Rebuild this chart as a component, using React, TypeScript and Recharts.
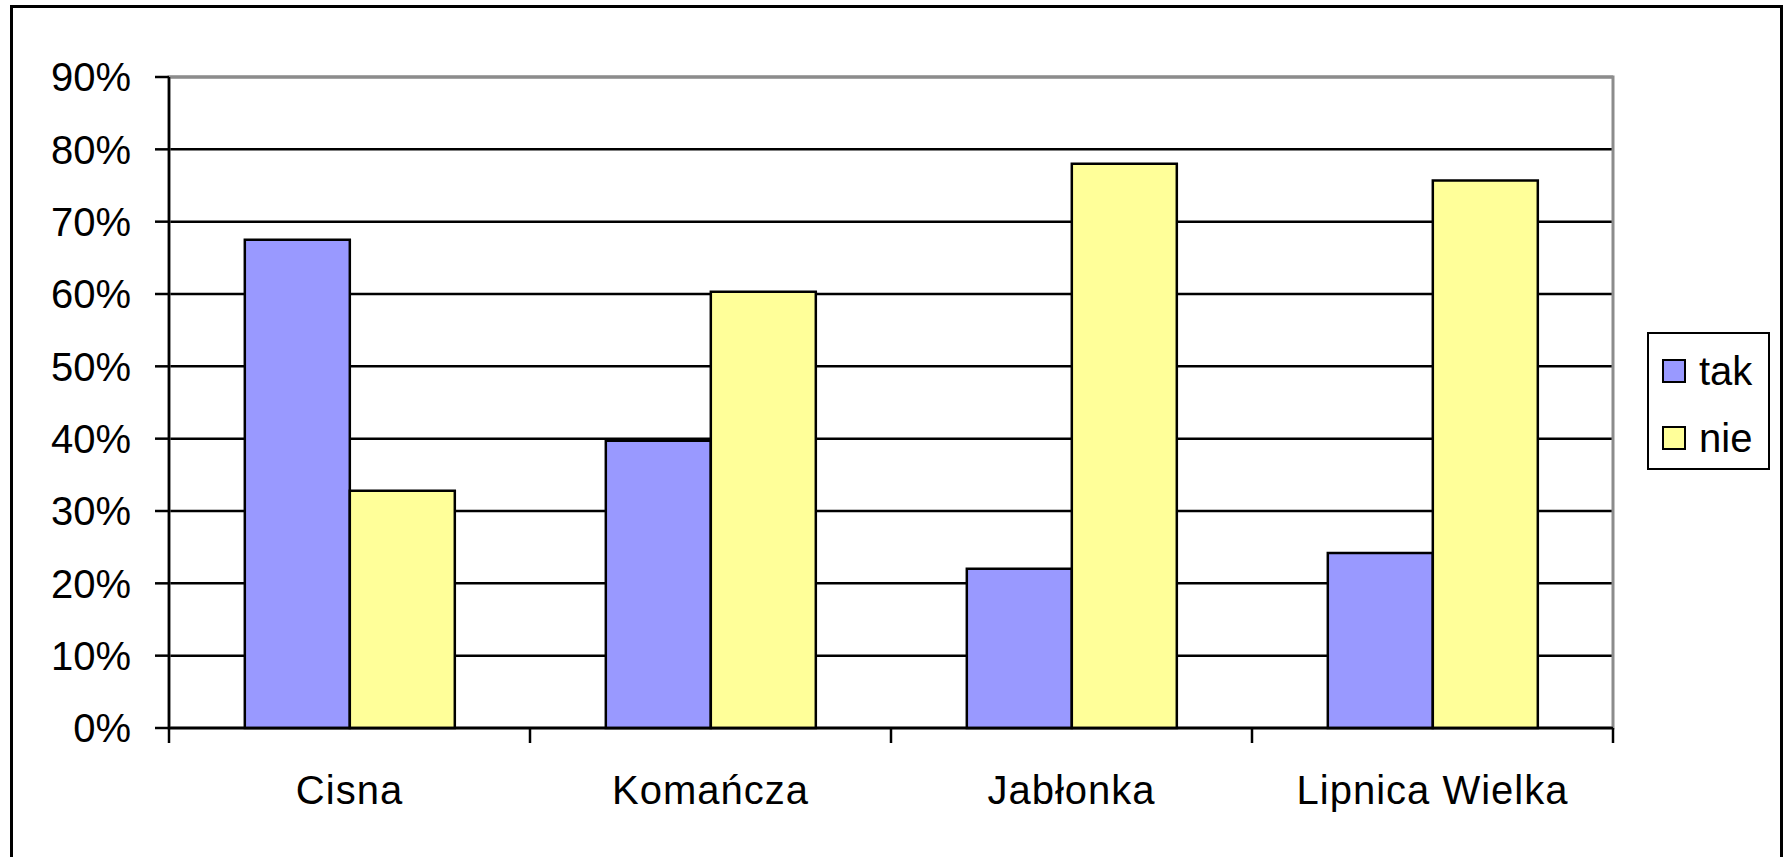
import React from 'react';
import { BarChart, Bar, XAxis, YAxis, CartesianGrid, Legend, ReferenceArea } from 'recharts';

const categories = ['Cisna', 'Komańcza', 'Jabłonka', 'Lipnica Wielka'];
const seriesNames = ['tak', 'nie'];
const takValues = [67.5, 39.7, 22.0, 24.2];
const nieValues = [32.8, 60.3, 78.0, 75.7];
const yTicks = [0, 10, 20, 30, 40, 50, 60, 70, 80, 90];

const data = categories.map((c, i) => ({ name: c, tak: takValues[i], nie: nieValues[i] }));

const FONT = '"Liberation Sans", Arial, sans-serif';
const X_TICK_MARGIN = 48;

const XTick = (props: any) => {
  const { x, y, payload, index, visibleTicksCount } = props;
  const off = typeof payload?.offset === 'number' ? payload.offset : 0;
  const axisY = y - X_TICK_MARGIN;
  return (
    <g>
      <line x1={x - off} x2={x - off} y1={axisY} y2={axisY + 15} stroke="#000" strokeWidth={2.5} />
      {index === visibleTicksCount - 1 && (
        <line x1={x + off} x2={x + off} y1={axisY} y2={axisY + 15} stroke="#000" strokeWidth={2.5} />
      )}
      <text
        x={x}
        y={y}
        dy="0.71em"
        textAnchor="middle"
        fill="#000"
        fontSize={40}
        fontFamily={FONT}
        letterSpacing={1}
      >
        {payload.value}
      </text>
    </g>
  );
};

const LegendContent = (props: any) => {
  const items = [...(props.payload || [])].sort(
    (a: any, b: any) => seriesNames.indexOf(a.value) - seriesNames.indexOf(b.value)
  );
  return (
    <div
      style={{
        border: '2.5px solid #000',
        background: '#fff',
        width: 123,
        height: 138,
        boxSizing: 'border-box',
        paddingTop: 3,
        fontFamily: FONT,
      }}
    >
      {items.map((it: any) => (
        <div key={it.value} style={{ display: 'flex', alignItems: 'center', height: 67, paddingLeft: 13 }}>
          <div
            style={{
              width: 24,
              height: 24,
              boxSizing: 'border-box',
              border: '2.5px solid #000',
              background: it.color,
            }}
          />
          <span style={{ fontSize: 40, color: '#000', marginLeft: 13, lineHeight: '40px' }}>{it.value}</span>
        </div>
      ))}
    </div>
  );
};

export default function App() {
  return (
    <div style={{ position: 'fixed', left: 0, top: 0, width: 1789, height: 857, overflow: 'hidden', background: '#fff' }}>
      <div
        style={{
          position: 'absolute',
          left: 10,
          top: 5,
          width: 1773,
          height: 900,
          border: '3px solid #000',
          boxSizing: 'border-box',
        }}
      />
      <div style={{ position: 'absolute', left: 0, top: 0 }}>
        <BarChart
          width={1789}
          height={857}
          data={data}
          margin={{ top: 77, right: 176, bottom: 29, left: 0 }}
          barCategoryGap="21%"
          barGap={0}
        >
          <CartesianGrid vertical={false} stroke="#000" strokeWidth={2.5} />
          <ReferenceArea y1={0} y2={90} fill="none" fillOpacity={0} stroke="#8c8c8c" strokeWidth={3} ifOverflow="visible" />
          <XAxis
            dataKey="name"
            height={100}
            tickSize={0}
            tickMargin={X_TICK_MARGIN}
            tickLine={false}
            axisLine={{ stroke: '#000', strokeWidth: 2.5 }}
            tick={<XTick />}
            interval={0}
          />
          <YAxis
            width={169}
            domain={[0, 90]}
            ticks={yTicks}
            interval={0}
            tickFormatter={(v: number) => `${v}%`}
            tickSize={14}
            tickMargin={24}
            tickLine={{ stroke: '#000', strokeWidth: 2.5 }}
            axisLine={{ stroke: '#000', strokeWidth: 2.5 }}
            tick={{ fill: '#000', fontSize: 40, fontFamily: FONT }}
          />
          <Legend
            layout="horizontal"
            align="center"
            verticalAlign="middle"
            content={<LegendContent />}
            wrapperStyle={{ left: 1647, top: 332, width: 123, height: 138 }}
          />
          <Bar dataKey="tak" name="tak" fill="#9999FF" stroke="#000" strokeWidth={2.5} isAnimationActive={false} />
          <Bar dataKey="nie" name="nie" fill="#FFFF99" stroke="#000" strokeWidth={2.5} isAnimationActive={false} />
        </BarChart>
      </div>
    </div>
  );
}
